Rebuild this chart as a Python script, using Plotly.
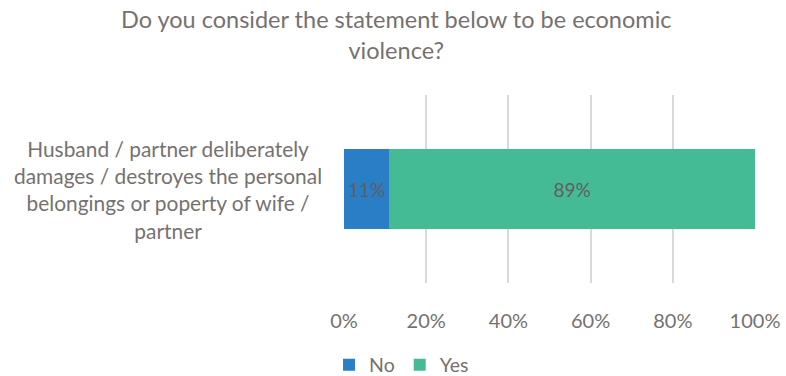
import plotly.graph_objects as go

# Survey item and answer shares (percent)
categories = ["Husband / partner deliberately damages / destroyes the personal belongings or poperty of wife / partner"]
no_share = [11]
yes_share = [89]
tick_vals = [0, 20, 40, 60, 80, 100]
tick_text = ["0%", "20%", "40%", "60%", "80%", "100%"]

FONT = "Lato"
GREY = "#767171"
LABEL_GREY = "#5F5F5F"

fig = go.Figure()
fig.add_trace(go.Bar(
    y=categories, x=no_share, name="No", orientation="h",
    marker=dict(color="#2A7EC6", line=dict(width=0)),
    text=[f"{v}%" for v in no_share], textposition="inside",
    insidetextanchor="middle", textfont=dict(color=LABEL_GREY, size=19, family=FONT),
    width=0.4255,
))
fig.add_trace(go.Bar(
    y=categories, x=yes_share, name="Yes", orientation="h",
    marker=dict(color="#45BB95", line=dict(width=0)),
    text=[f"{v}%" for v in yes_share], textposition="inside",
    insidetextanchor="middle", textfont=dict(color=LABEL_GREY, size=19, family=FONT),
    width=0.4255,
))

fig.update_layout(
    width=786, height=376,
    barmode="stack",
    paper_bgcolor="white", plot_bgcolor="white",
    margin=dict(l=344, r=31, t=95, b=93, autoexpand=False),
    font=dict(family=FONT, color=GREY),
    showlegend=True,
    legend=dict(
        orientation="h", x=0.14, xanchor="center", y=-0.436, yanchor="middle",
        font=dict(family=FONT, size=19.5, color=GREY),
        traceorder="normal",
    ),
    uniformtext=dict(mode="show", minsize=10),
)

# Two-line chart title
fig.add_annotation(
    text="Do you consider the statement below to be economic<br>violence?",
    xref="paper", yref="paper", x=0.128, y=1.0, yshift=92,
    xanchor="center", yanchor="top", align="center", showarrow=False,
    font=dict(family=FONT, size=23.5, color=GREY),
)

fig.update_xaxes(
    range=[0, 100], tickvals=tick_vals, ticktext=tick_text,
    showgrid=True, gridcolor="#D9D9D9", gridwidth=2,
    zeroline=False, showline=False, ticks="",
    tickfont=dict(family=FONT, size=20, color=GREY),
    ticklabelstandoff=24,
)
fig.update_yaxes(
    showticklabels=False, showgrid=False, zeroline=False, showline=False,
    range=[-0.5, 0.5],
)

# Category label drawn as centred multi-line text to the left of the bar
label_lines = "Husband / partner deliberately<br>damages / destroyes the personal<br>belongings or poperty of wife /<br>partner"
fig.add_annotation(
    text=label_lines, xref="paper", yref="y", x=-0.428, y=categories[0],
    xanchor="center", yanchor="middle", align="center", showarrow=False,
    font=dict(family=FONT, size=20.9, color=GREY),
)

fig.write_html("out.html")
